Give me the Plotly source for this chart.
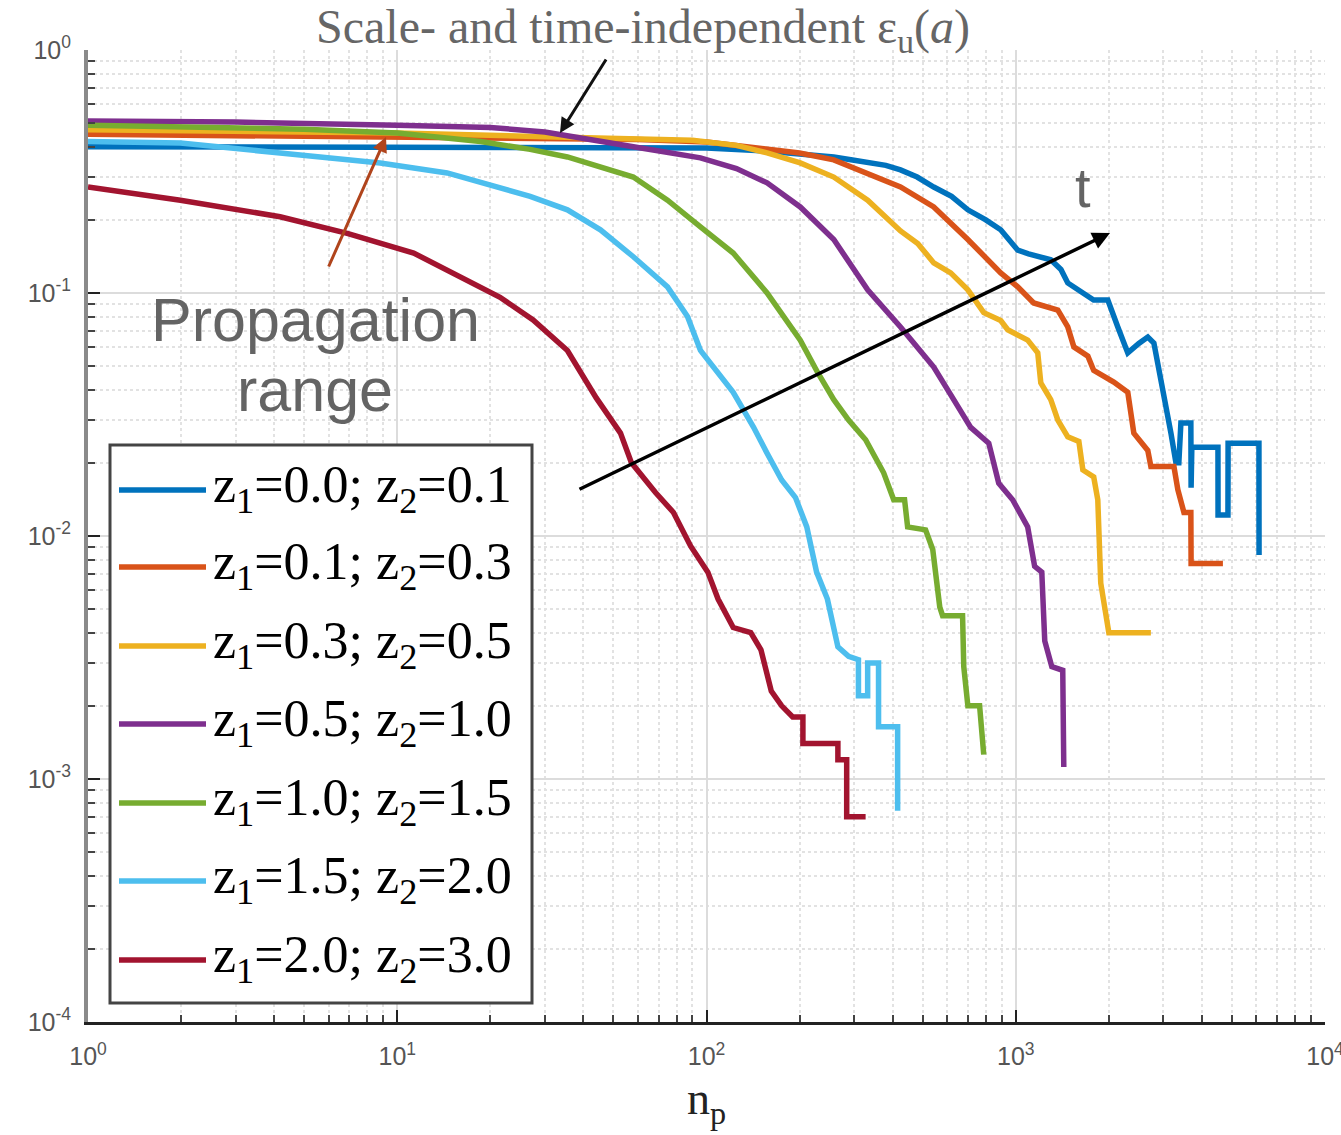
import plotly.graph_objects as go

# ---------------- data ----------------
series_names = ["z<sub>1</sub>=0.0; z<sub>2</sub>=0.1", "z<sub>1</sub>=0.1; z<sub>2</sub>=0.3",
                "z<sub>1</sub>=0.3; z<sub>2</sub>=0.5", "z<sub>1</sub>=0.5; z<sub>2</sub>=1.0",
                "z<sub>1</sub>=1.0; z<sub>2</sub>=1.5", "z<sub>1</sub>=1.5; z<sub>2</sub>=2.0",
                "z<sub>1</sub>=2.0; z<sub>2</sub>=3.0"]
colors = ["#0072BD", "#D95319", "#EDB120", "#7E2F8E", "#77AC30", "#4DBEEE", "#A2142F"]

x_z00 = [1, 3, 10, 30, 60, 100, 150, 200, 258, 300, 330, 380, 424, 480, 543, 620, 700, 800, 894, 960, 1015, 1100,
         1298, 1400, 1473, 1786, 1985, 2138, 2303, 2500, 2673, 2797, 3013, 3176, 3296, 3368, 3420, 3683, 3690, 3710,
         4507, 4510, 4855, 4860, 6115, 6120]
y_z00 = [0.40, 0.40, 0.40, 0.40, 0.398, 0.395, 0.385, 0.375, 0.363, 0.352, 0.345, 0.335, 0.321, 0.30, 0.273, 0.25,
         0.22, 0.20, 0.182, 0.165, 0.150, 0.145, 0.137, 0.125, 0.110, 0.0936, 0.0936, 0.0725, 0.0567, 0.062, 0.0659,
         0.0622, 0.0388, 0.0265, 0.020, 0.020, 0.0292, 0.0292, 0.0158, 0.0232, 0.0232, 0.0122, 0.0122, 0.0241,
         0.0241, 0.00835]

x_z01 = [1, 3, 10, 30, 60, 100, 140, 200, 258, 330, 424, 543, 700, 894, 1015, 1143, 1368, 1473, 1541, 1711, 1787,
         2075, 2303, 2409, 2673, 2735, 3247, 3343, 3498, 3683, 3690, 4676]
y_z01 = [0.45, 0.445, 0.44, 0.435, 0.428, 0.418, 0.40, 0.377, 0.353, 0.31, 0.273, 0.226, 0.166, 0.121, 0.106,
         0.091, 0.085, 0.0725, 0.060, 0.055, 0.048, 0.043, 0.039, 0.0265, 0.0225, 0.0193, 0.0193, 0.0155, 0.0125,
         0.0125, 0.0077, 0.0077]

x_z03 = [1, 3, 10, 30, 60, 90, 125, 157, 201, 258, 332, 424, 482, 543, 616, 700, 788, 894, 942, 1093, 1178, 1205,
         1298, 1368, 1473, 1600, 1648, 1787, 1842, 1883, 2000, 2735]
y_z03 = [0.47, 0.465, 0.455, 0.44, 0.433, 0.425, 0.405, 0.377, 0.343, 0.30, 0.241, 0.18, 0.16, 0.133, 0.121, 0.103,
         0.083, 0.077, 0.0706, 0.064, 0.0567, 0.0427, 0.0364, 0.030, 0.0256, 0.0245, 0.0187, 0.0175, 0.0141,
         0.0064, 0.0040, 0.0040]

x_z05 = [1, 3, 10, 20, 30, 40, 58, 95.6, 125, 157, 201, 258, 332, 424, 543, 630, 715, 818, 881, 977, 1093, 1151,
         1214, 1241, 1308, 1419, 1430]
y_z05 = [0.51, 0.505, 0.49, 0.48, 0.46, 0.435, 0.40, 0.36, 0.325, 0.284, 0.226, 0.166, 0.103, 0.0725, 0.0496,
         0.0364, 0.028, 0.0241, 0.0165, 0.0141, 0.0109, 0.0075, 0.0071, 0.0037, 0.0029, 0.0028, 0.00112]

x_z10 = [1, 3, 5, 10, 18.6, 26.9, 35.5, 58, 74.8, 95.6, 122, 157, 201, 229, 258, 288, 327, 374, 403, 437, 447, 511,
         539, 568, 580, 673, 679, 700, 764, 788]
y_z10 = [0.49, 0.48, 0.472, 0.455, 0.42, 0.39, 0.363, 0.30, 0.241, 0.187, 0.146, 0.10, 0.064, 0.047, 0.0364,
         0.030, 0.0249, 0.0182, 0.0141, 0.0141, 0.0109, 0.0106, 0.0088, 0.0051, 0.0047, 0.0047, 0.0029, 0.0020,
         0.0020, 0.00126]

x_z15 = [1, 1.99, 4.18, 8.81, 14.5, 21.5, 26.9, 35.5, 45.4, 58, 74.8, 86.8, 95.6, 122, 142, 157, 175, 194, 211,
         227, 246, 266, 288, 310, 310, 332, 332, 360, 360, 415, 415]
y_z15 = [0.42, 0.414, 0.377, 0.343, 0.312, 0.27, 0.25, 0.22, 0.182, 0.141, 0.106, 0.080, 0.058, 0.039, 0.028,
         0.0219, 0.017, 0.0144, 0.0109, 0.0071, 0.0055, 0.0035, 0.0032, 0.0031, 0.0022, 0.0022, 0.0030, 0.0030,
         0.00164, 0.00164, 0.00074]

x_z20 = [1, 1.99, 4.18, 6.89, 11.3, 18.6, 21.5, 27.5, 35.5, 44, 52.7, 57.2, 68.4, 78.2, 88.8, 101, 109, 122, 139,
         150, 162, 175, 190, 205, 205, 266, 266, 284, 284, 327]
y_z20 = [0.273, 0.241, 0.206, 0.176, 0.146, 0.106, 0.096, 0.0774, 0.058, 0.037, 0.0265, 0.020, 0.0151, 0.0125,
         0.0091, 0.0071, 0.0055, 0.0042, 0.0040, 0.0034, 0.0023, 0.0020, 0.0018, 0.0018, 0.0014, 0.0014, 0.0012,
         0.0012, 0.00070, 0.00070]

xs = [x_z00, x_z01, x_z03, x_z05, x_z10, x_z15, x_z20]
ys = [y_z00, y_z01, y_z03, y_z05, y_z10, y_z15, y_z20]

x_tickvals = [1, 10, 100, 1000, 10000]
x_ticktext = ["10<sup>0</sup>", "10<sup>1</sup>", "10<sup>2</sup>", "10<sup>3</sup>", "10<sup>4</sup>"]
y_tickvals = [1e-4, 1e-3, 1e-2, 1e-1, 1]
y_ticktext = ["10<sup>-4</sup>", "10<sup>-3</sup>", "10<sup>-2</sup>", "10<sup>-1</sup>", "10<sup>0</sup>"]
x_minor = [m * 10 ** k for k in range(0, 4) for m in range(2, 10)]
y_minor = [m * 10.0 ** k for k in range(-4, 0) for m in range(2, 10)]

# ---------------- layout geometry ----------------
W, H = 1341, 1135
L, R, T, B = 88, 16, 50, 113
PW, PH = W - L - R, H - T - B


def px(xp):
    return (xp - L) / PW


def py(yp):
    return (H - B - yp) / PH


fig = go.Figure()
for xv, yv, c, n in zip(xs, ys, colors, series_names):
    fig.add_trace(go.Scatter(x=xv, y=yv, mode="lines", name=n,
                             line=dict(color=c, width=5.5), showlegend=False))


def minor_cfg(vals):
    return dict(tickmode="array", tickvals=vals, ticks="inside", ticklen=7, tickcolor="#444", tickwidth=2,
                showgrid=True, gridcolor="#e2e2e2", griddash="dot", gridwidth=1.5)


fig.update_xaxes(type="log", range=[0, 4], tickvals=x_tickvals, ticktext=x_ticktext,
                 ticks="inside", ticklen=12, tickwidth=2, tickcolor="#222",
                 showline=True, linecolor="#222", linewidth=3,
                 showgrid=True, gridcolor="#dcdcdc", gridwidth=2,
                 tickfont=dict(family="Liberation Sans", size=25, color="#555"),
                 ticklabelstandoff=10, ticklabeloverflow="allow",
                 minor=minor_cfg(x_minor), zeroline=False)
fig.update_yaxes(type="log", range=[-4, 0], tickvals=y_tickvals, ticktext=y_ticktext,
                 ticks="inside", ticklen=12, tickwidth=2, tickcolor="#222",
                 showline=True, linecolor="#8a8a8a", linewidth=4,
                 showgrid=True, gridcolor="#dcdcdc", gridwidth=2,
                 tickfont=dict(family="Liberation Sans", size=25, color="#555"),
                 ticklabelstandoff=8, ticklabeloverflow="allow",
                 minor=minor_cfg(y_minor), zeroline=False)

annotations = []


def text_ann(xp, yp, text, size, family, color, xanchor="center"):
    return dict(x=px(xp), y=py(yp), xref="paper", yref="paper", showarrow=False, text=text,
                xanchor=xanchor, yanchor="middle", font=dict(family=family, size=size, color=color))


def arrow_ann(hx, hy, tx, ty, color, width):
    return dict(x=px(hx), y=py(hy), xref="paper", yref="paper", ax=tx - hx, ay=ty - hy, text="",
                showarrow=True, arrowhead=2, arrowsize=1, arrowwidth=width, arrowcolor=color)


annotations.append(text_ann(643, 30, "Scale- and time-independent ε<sub>u</sub>(<i>a</i>)",
                            48, "Liberation Serif", "#666"))
annotations.append(arrow_ann(560, 133, 607, 58, "#111", 3))
annotations.append(arrow_ann(386, 137, 328, 268, "#B0441C", 3))
annotations.append(arrow_ann(1110, 233, 578, 490, "#000", 3.5))
annotations.append(text_ann(315, 320, "Propagation", 61, "Liberation Sans", "#646464"))
annotations.append(text_ann(315, 390, "range", 61, "Liberation Sans", "#646464"))
annotations.append(text_ann(1083, 188, "t", 56, "Liberation Sans", "#646464"))
annotations.append(text_ann(706, 1102, "n<sub>p</sub>", 46, "Liberation Serif", "#222"))

shapes = []
shapes.append(dict(type="rect", xref="paper", yref="paper", x0=px(110), x1=px(532), y0=py(1003), y1=py(445),
                   line=dict(color="#444", width=3), fillcolor="white", layer="above"))
leg_y = [490, 567, 646, 724, 803, 881, 960]
for yy, c, n in zip(leg_y, colors, series_names):
    shapes.append(dict(type="line", xref="paper", yref="paper", x0=px(119), x1=px(206), y0=py(yy), y1=py(yy),
                       line=dict(color=c, width=5.5), layer="above"))
    annotations.append(text_ann(211, yy - 2, n, 52, "Liberation Serif", "#000", xanchor="left"))

fig.update_layout(width=W, height=H, margin=dict(l=L, r=R, t=T, b=B, autoexpand=False),
                  plot_bgcolor="white", paper_bgcolor="white",
                  annotations=annotations, shapes=shapes, showlegend=False)

fig.write_html("out.html")
